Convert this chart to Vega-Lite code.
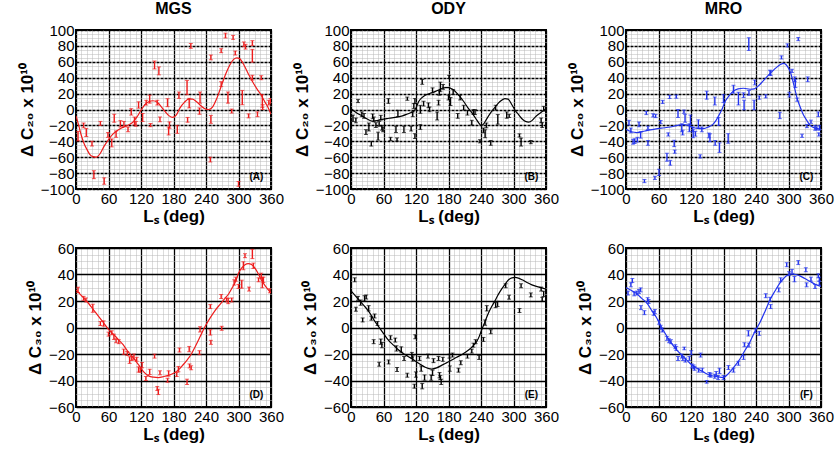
{
"$schema":"https://vega.github.io/schema/vega-lite/v6.json",
"padding":{"left":17,"top":0,"right":2,"bottom":2},
"config":{"font":"Liberation Sans","view":{"stroke":"#000","strokeWidth":2},"axis":{"labelColor":"#000","titleColor":"#000","labelOverlap":false,"labelBound":false},"title":{"fontSize":16,"fontWeight":"bold","offset":6,"color":"#000"}},
"datasets":{
"A":[{"x":3.7,"y":-33.5,"e":6},{"x":14,"y":-20,"e":3},{"x":19,"y":-29,"e":5},{"x":29.5,"y":-43,"e":3},{"x":33,"y":-82,"e":5},{"x":45,"y":-17.5,"e":2.5},{"x":52,"y":-90,"e":4},{"x":59,"y":-32,"e":3},{"x":66,"y":-42,"e":5},{"x":70.6,"y":-11,"e":5},{"x":74,"y":-31,"e":4},{"x":82,"y":-18,"e":4},{"x":88.5,"y":-18,"e":3},{"x":96,"y":-25,"e":3},{"x":102,"y":-3,"e":4},{"x":108,"y":-14.5,"e":5},{"x":110.6,"y":-18,"e":3},{"x":115.5,"y":5.7,"e":4},{"x":123,"y":-10,"e":5},{"x":129.6,"y":8.6,"e":3},{"x":136,"y":13,"e":5},{"x":137.6,"y":-19.6,"e":2},{"x":145,"y":56,"e":5},{"x":153,"y":48.6,"e":5},{"x":150,"y":8.6,"e":3},{"x":155,"y":-12.4,"e":3},{"x":169,"y":8.6,"e":5},{"x":171,"y":-27,"e":5},{"x":172.6,"y":-19.6,"e":4},{"x":187,"y":-25,"e":5},{"x":190,"y":18,"e":4},{"x":206,"y":-13,"e":3},{"x":205,"y":27.6,"e":9},{"x":209,"y":8,"e":6},{"x":212,"y":80,"e":3},{"x":229,"y":15,"e":7},{"x":228,"y":-2,"e":4},{"x":249,"y":65.5,"e":3},{"x":249,"y":-12.4,"e":5},{"x":248,"y":-63,"e":3},{"x":268,"y":32,"e":3},{"x":268,"y":74,"e":2.5},{"x":276,"y":93,"e":3},{"x":280.5,"y":15,"e":7},{"x":287.5,"y":-2,"e":2.5},{"x":290,"y":90.7,"e":2.5},{"x":294,"y":71,"e":2.5},{"x":300,"y":-93.6,"e":3},{"x":307,"y":15,"e":9},{"x":310,"y":82,"e":3},{"x":313,"y":79,"e":3},{"x":318.6,"y":-8,"e":2.5},{"x":325.6,"y":83.6,"e":3},{"x":325.6,"y":67.6,"e":8},{"x":325.6,"y":40,"e":3},{"x":335,"y":-6,"e":3},{"x":342,"y":40,"e":2.5},{"x":344,"y":10.7,"e":8},{"x":344.6,"y":3,"e":3},{"x":356,"y":8.6,"e":3},{"x":359,"y":10.7,"e":3}],
"Af":[{"x":0,"y":-8},{"x":5,"y":-20},{"x":10,"y":-33},{"x":15,"y":-43},{"x":20,"y":-50},{"x":25,"y":-56},{"x":30,"y":-59},{"x":37,"y":-60},{"x":45,"y":-55},{"x":52,"y":-46},{"x":60,"y":-38},{"x":68,"y":-31},{"x":75,"y":-27},{"x":85,"y":-23},{"x":95,"y":-20},{"x":105,"y":-16},{"x":112,"y":-10},{"x":120,"y":-1},{"x":127,"y":6},{"x":135,"y":10},{"x":142,"y":11},{"x":150,"y":9},{"x":158,"y":3},{"x":165,"y":-3},{"x":172,"y":-8},{"x":178,"y":-10},{"x":185,"y":-7},{"x":192,"y":2},{"x":200,"y":9},{"x":208,"y":13},{"x":215,"y":13},{"x":222,"y":10},{"x":230,"y":5},{"x":238,"y":1},{"x":245,"y":0},{"x":252,"y":3},{"x":260,"y":14},{"x":268,"y":29},{"x":276,"y":44},{"x":284,"y":56},{"x":291,"y":63},{"x":297,"y":65},{"x":302,"y":64},{"x":310,"y":56},{"x":318,"y":45},{"x":326,"y":35},{"x":334,"y":26},{"x":342,"y":18},{"x":350,"y":8},{"x":355,"y":2},{"x":360,"y":-6}],
"B":[{"x":3.7,"y":-11,"e":4},{"x":13,"y":10.7,"e":2},{"x":9,"y":-13.7,"e":3},{"x":20,"y":-6,"e":3},{"x":24,"y":-8,"e":3},{"x":27.6,"y":-28.4,"e":3},{"x":33,"y":-22,"e":5},{"x":37.5,"y":-43,"e":3},{"x":40,"y":-8.6,"e":3},{"x":42,"y":-12.4,"e":3},{"x":46,"y":-19.6,"e":3},{"x":50,"y":-33.5,"e":5},{"x":52,"y":-18,"e":3},{"x":55,"y":-10.3,"e":3},{"x":57,"y":-23,"e":3},{"x":59,"y":-25,"e":3},{"x":69,"y":10.7,"e":3},{"x":73,"y":-37,"e":2},{"x":83,"y":-25,"e":4},{"x":85,"y":-37.7,"e":2},{"x":86.6,"y":-5,"e":4},{"x":97.7,"y":-25,"e":4},{"x":104,"y":13.6,"e":2},{"x":111,"y":-24,"e":3},{"x":114,"y":-6,"e":3},{"x":116,"y":4.4,"e":3},{"x":118,"y":10.7,"e":3},{"x":118,"y":-33.5,"e":3},{"x":128,"y":-22,"e":3},{"x":128,"y":0.2,"e":5},{"x":131.5,"y":34.7,"e":3},{"x":134,"y":7.4,"e":3},{"x":143,"y":5.3,"e":3},{"x":145,"y":0.2,"e":3},{"x":150.5,"y":24.2,"e":3},{"x":159,"y":-8.2,"e":5},{"x":161.6,"y":8.6,"e":3},{"x":163,"y":21,"e":3},{"x":165,"y":28.4,"e":6},{"x":170,"y":28.4,"e":3},{"x":180,"y":15,"e":3},{"x":181,"y":41,"e":2},{"x":183.7,"y":10,"e":5},{"x":188.6,"y":22,"e":3},{"x":197,"y":-8,"e":3},{"x":201.5,"y":15,"e":3},{"x":208,"y":2.3,"e":3},{"x":215,"y":-4,"e":3},{"x":223,"y":-16.6,"e":3},{"x":226,"y":-3.2,"e":3},{"x":229,"y":-3.2,"e":3},{"x":238,"y":-40,"e":2},{"x":244.5,"y":-26.3,"e":3},{"x":247.6,"y":-30.5,"e":5},{"x":250,"y":-20,"e":3},{"x":258,"y":-42,"e":3},{"x":267,"y":2.3,"e":3},{"x":271,"y":-12.4,"e":6},{"x":287.5,"y":-7,"e":4},{"x":292,"y":-8,"e":2},{"x":311,"y":-32.6,"e":2},{"x":314,"y":-41,"e":5},{"x":332,"y":-41,"e":2},{"x":351,"y":-13.7,"e":3},{"x":353,"y":-19.6,"e":3},{"x":355.7,"y":1,"e":3}],
"Bf":[{"x":0,"y":1},{"x":10,"y":-4},{"x":20,"y":-8},{"x":30,"y":-12},{"x":39,"y":-14.5},{"x":48,"y":-14},{"x":57,"y":-12.4},{"x":70,"y":-11},{"x":85,"y":-9.5},{"x":95,"y":-8},{"x":103,"y":-6},{"x":110,"y":-4},{"x":116,"y":-2},{"x":120,"y":2},{"x":125,"y":10},{"x":131,"y":15},{"x":137,"y":18},{"x":145,"y":20},{"x":155,"y":22.5},{"x":162,"y":24.5},{"x":168,"y":26.7},{"x":175,"y":27.5},{"x":180,"y":27.6},{"x":186,"y":26},{"x":192,"y":23},{"x":200,"y":17},{"x":207,"y":11},{"x":215,"y":3},{"x":223,"y":-4},{"x":230,"y":-11},{"x":236,"y":-17},{"x":240,"y":-20},{"x":245,"y":-18},{"x":250,"y":-12.4},{"x":258,"y":-4},{"x":266,"y":3},{"x":275,"y":10},{"x":284,"y":13.7},{"x":290,"y":13},{"x":297,"y":6},{"x":303,"y":-1},{"x":310,"y":-7},{"x":316,"y":-12},{"x":322,"y":-15},{"x":328,"y":-15.8},{"x":334,"y":-14},{"x":340,"y":-9.5},{"x":350,"y":-4},{"x":360,"y":1}],
"C":[{"x":5.5,"y":-16.6,"e":3},{"x":9,"y":-26.3,"e":3},{"x":13,"y":-40.6,"e":3},{"x":16,"y":-39.8,"e":3},{"x":21,"y":-38,"e":3},{"x":24,"y":-18.7,"e":3},{"x":27,"y":-32,"e":4},{"x":34,"y":-90,"e":2},{"x":37.5,"y":-4.4,"e":2},{"x":40.5,"y":-23,"e":2},{"x":40.5,"y":-42,"e":3},{"x":50,"y":-7.4,"e":2},{"x":53.4,"y":-86,"e":2},{"x":54.7,"y":-8.2,"e":2},{"x":61,"y":-79,"e":4},{"x":64,"y":-15.8,"e":2},{"x":67.6,"y":9.5,"e":2},{"x":75.6,"y":-60,"e":5},{"x":78,"y":-31.4,"e":2},{"x":80.5,"y":15.8,"e":2},{"x":81.7,"y":-67,"e":3},{"x":89,"y":-42.7,"e":4},{"x":90,"y":-53,"e":2},{"x":92.8,"y":16.2,"e":2},{"x":96,"y":-5,"e":5},{"x":103,"y":-23,"e":5},{"x":104.6,"y":-29,"e":3},{"x":107,"y":-2.7,"e":2},{"x":109,"y":-11,"e":5},{"x":117,"y":-23,"e":5},{"x":119,"y":-13,"e":6},{"x":123,"y":-25,"e":3},{"x":124,"y":-30.5,"e":5},{"x":128,"y":-30.5,"e":3},{"x":133.6,"y":-18,"e":5},{"x":137,"y":-59,"e":2},{"x":140,"y":-25,"e":3},{"x":149,"y":18,"e":5},{"x":153,"y":-32.6,"e":3},{"x":155,"y":-35.6,"e":5},{"x":164,"y":10.7,"e":5},{"x":164.6,"y":-42,"e":3},{"x":171,"y":-15,"e":5},{"x":172.6,"y":-48,"e":6},{"x":180,"y":13.7,"e":5},{"x":188.6,"y":-36.4,"e":6},{"x":198.4,"y":25.5,"e":5},{"x":207.6,"y":13.7,"e":8},{"x":217,"y":18,"e":3},{"x":218,"y":5.7,"e":6},{"x":226.7,"y":82.3,"e":8},{"x":227,"y":21,"e":3},{"x":236.5,"y":5.7,"e":6},{"x":237.7,"y":34,"e":3},{"x":246,"y":15,"e":2},{"x":258,"y":16.6,"e":2},{"x":266,"y":46.5,"e":3},{"x":267,"y":45.7,"e":3},{"x":284,"y":-7.5,"e":4},{"x":287,"y":65.5,"e":2},{"x":298,"y":80.6,"e":2},{"x":301.6,"y":18.7,"e":3},{"x":306.5,"y":48.6,"e":2},{"x":311.5,"y":38,"e":3},{"x":312.7,"y":32.6,"e":5},{"x":316,"y":12.4,"e":2},{"x":318,"y":88.6,"e":2},{"x":325,"y":-33,"e":2},{"x":334,"y":-20.8,"e":2},{"x":335.4,"y":38,"e":3},{"x":341.5,"y":-15.4,"e":2},{"x":349,"y":-23,"e":3},{"x":352,"y":-23.8,"e":2},{"x":355,"y":-6,"e":3},{"x":356,"y":-31.4,"e":2},{"x":357.5,"y":-23,"e":3}],
"Cf":[{"x":0,"y":-25},{"x":10,"y":-28},{"x":20,"y":-29},{"x":35,"y":-27},{"x":51,"y":-25},{"x":65,"y":-23.5},{"x":82,"y":-22},{"x":95,"y":-20},{"x":106,"y":-19},{"x":115,"y":-20},{"x":125,"y":-23},{"x":135,"y":-24},{"x":143,"y":-24},{"x":152,"y":-22},{"x":160,"y":-19},{"x":166,"y":-14},{"x":171,"y":-8},{"x":177,"y":0},{"x":183,"y":10},{"x":190,"y":17},{"x":198,"y":23},{"x":207,"y":26},{"x":217,"y":26.7},{"x":229,"y":25.5},{"x":237,"y":26},{"x":245,"y":30},{"x":252,"y":35},{"x":260,"y":41},{"x":270,"y":48},{"x":278,"y":53},{"x":285,"y":56.5},{"x":291,"y":58},{"x":296,"y":56},{"x":300,"y":52},{"x":304,"y":46},{"x":308,"y":36},{"x":312,"y":25},{"x":316,"y":14},{"x":321,"y":4},{"x":327,"y":-6},{"x":334,"y":-14},{"x":340,"y":-20},{"x":350,"y":-23.5},{"x":360,"y":-25}],
"D":[{"x":3.7,"y":28.4,"e":2},{"x":14,"y":22,"e":1.5},{"x":18.4,"y":20.8,"e":1.5},{"x":31,"y":14.5,"e":3},{"x":45,"y":3,"e":1.5},{"x":51,"y":3,"e":2},{"x":60,"y":-5,"e":1.5},{"x":66,"y":-4,"e":1.5},{"x":70,"y":-7,"e":2},{"x":74,"y":-10,"e":1.5},{"x":79,"y":-10.7,"e":1.5},{"x":88,"y":-18.3,"e":2},{"x":94.6,"y":-19.6,"e":1.5},{"x":99,"y":-24.6,"e":2.5},{"x":103,"y":-23.4,"e":1.5},{"x":107,"y":-22,"e":2},{"x":112,"y":-24,"e":1.5},{"x":115.5,"y":-31.7,"e":2},{"x":118.6,"y":-32.2,"e":1.5},{"x":122,"y":-28.4,"e":2},{"x":129,"y":-38.5,"e":1.5},{"x":136,"y":-33.5,"e":2},{"x":145,"y":-21.6,"e":1.5},{"x":150,"y":-46,"e":1.5},{"x":152,"y":-48.6,"e":2},{"x":155,"y":-34.2,"e":1.5},{"x":169,"y":-39.8,"e":1.5},{"x":171,"y":-34.7,"e":2},{"x":186,"y":-35.5,"e":1.5},{"x":189,"y":-31.4,"e":2},{"x":191,"y":-17,"e":1.5},{"x":205,"y":-41,"e":2},{"x":209,"y":-16.3,"e":2},{"x":209.6,"y":-29,"e":1.5},{"x":212.6,"y":-30.4,"e":1.5},{"x":228,"y":-19,"e":1.5},{"x":229,"y":-1.4,"e":2},{"x":248,"y":15.8,"e":1.5},{"x":248,"y":-3.7,"e":2},{"x":249,"y":-11.2,"e":1.5},{"x":268,"y":23.4,"e":1.5},{"x":269,"y":-0.6,"e":1.5},{"x":278,"y":20.8,"e":1.5},{"x":281,"y":20,"e":2},{"x":287.5,"y":20.8,"e":1.5},{"x":292,"y":34,"e":2},{"x":295,"y":36.5,"e":1.5},{"x":300,"y":31,"e":1.5},{"x":306,"y":32.7,"e":3},{"x":309,"y":46.6,"e":3},{"x":312,"y":54.2,"e":1.5},{"x":319.5,"y":29,"e":1.5},{"x":325.6,"y":55.5,"e":3.5},{"x":327.5,"y":46.6,"e":2},{"x":337,"y":36,"e":1.5},{"x":342,"y":39,"e":2},{"x":344,"y":34,"e":4},{"x":346,"y":36,"e":2},{"x":358,"y":27.7,"e":1.5}],
"Df":[{"x":0,"y":28.4},{"x":10,"y":24},{"x":23,"y":18.3},{"x":33,"y":13},{"x":42,"y":8.2},{"x":50,"y":4},{"x":60,"y":-1.4},{"x":70,"y":-5.5},{"x":79,"y":-9.5},{"x":87,"y":-13},{"x":94,"y":-17},{"x":102,"y":-21},{"x":109,"y":-24.6},{"x":117,"y":-29},{"x":125,"y":-33.5},{"x":134,"y":-36.5},{"x":143,"y":-37.5},{"x":152,"y":-37.8},{"x":162,"y":-37},{"x":171,"y":-36},{"x":180,"y":-34.5},{"x":189,"y":-32},{"x":197,"y":-28.5},{"x":205,"y":-24.6},{"x":213,"y":-20},{"x":220,"y":-14.5},{"x":229,"y":-7},{"x":238,"y":0.6},{"x":248,"y":7.5},{"x":257,"y":13},{"x":266,"y":17.5},{"x":275,"y":22},{"x":282,"y":25.5},{"x":288,"y":29.7},{"x":295,"y":35},{"x":300,"y":41},{"x":306,"y":45},{"x":312,"y":47.4},{"x":318,"y":48.2},{"x":324,"y":47.5},{"x":330,"y":45},{"x":336,"y":41},{"x":342,"y":36},{"x":350,"y":31},{"x":360,"y":26}],
"E":[{"x":6.8,"y":36,"e":1.5},{"x":9,"y":13.8,"e":1.5},{"x":13,"y":22,"e":1.5},{"x":17.8,"y":18.8,"e":2},{"x":21.5,"y":5.7,"e":1.5},{"x":25,"y":22,"e":2},{"x":28,"y":23,"e":1.5},{"x":32.6,"y":14.5,"e":2},{"x":37.5,"y":7,"e":1.5},{"x":41.8,"y":-10.7,"e":1.5},{"x":43.6,"y":8.7,"e":1.5},{"x":49,"y":3,"e":1.5},{"x":52,"y":-27.7,"e":1.5},{"x":55,"y":-10.7,"e":2},{"x":57,"y":-13.3,"e":2},{"x":69.4,"y":-26,"e":1.5},{"x":73,"y":-7.7,"e":1.5},{"x":81.7,"y":-9.5,"e":1.5},{"x":84,"y":-15.8,"e":2},{"x":85,"y":-31.7,"e":1.5},{"x":92.8,"y":-16.6,"e":2},{"x":98,"y":-23.4,"e":1.5},{"x":104,"y":-36,"e":1.5},{"x":112.4,"y":-20.8,"e":2},{"x":114,"y":-23.4,"e":2},{"x":117,"y":-44.3,"e":1.5},{"x":118.6,"y":-7,"e":1.5},{"x":119.8,"y":-35.5,"e":2},{"x":126.5,"y":-23.4,"e":1.5},{"x":129.6,"y":-31,"e":2},{"x":131.5,"y":-44.3,"e":2},{"x":135.8,"y":-37.8,"e":2},{"x":142,"y":-21.6,"e":1.5},{"x":148,"y":-37.8,"e":2},{"x":150.5,"y":-34.2,"e":2},{"x":152.3,"y":-25,"e":1.5},{"x":161.6,"y":-23.4,"e":1.5},{"x":163.4,"y":-36,"e":2},{"x":165,"y":-37.8,"e":1.5},{"x":166.5,"y":-41,"e":2},{"x":169.5,"y":-24,"e":1.5},{"x":181.8,"y":-21.6,"e":1.5},{"x":182.4,"y":-31,"e":2},{"x":187.4,"y":-20.8,"e":1.5},{"x":198.4,"y":-32.2,"e":1.5},{"x":202.7,"y":-26.6,"e":1.5},{"x":215,"y":-21.6,"e":1.5},{"x":223,"y":-17.8,"e":1.5},{"x":226,"y":-13.3,"e":1.5},{"x":230,"y":-10.7,"e":1.5},{"x":236.5,"y":-22.6,"e":1.5},{"x":244.5,"y":-9,"e":1.5},{"x":247.6,"y":3.7,"e":2},{"x":250.6,"y":14.5,"e":2},{"x":258,"y":-3.2,"e":1.5},{"x":267,"y":17,"e":2},{"x":270.6,"y":17.8,"e":2},{"x":285.6,"y":31.5,"e":1.5},{"x":291.8,"y":22.9,"e":1.5},{"x":314,"y":31.5,"e":1.5},{"x":311,"y":12.8,"e":1.5},{"x":332,"y":24.6,"e":1.5},{"x":351,"y":29,"e":1.5},{"x":353,"y":21.3,"e":1.5},{"x":355.7,"y":25.4,"e":2}],
"Ef":[{"x":0,"y":27.7},{"x":7,"y":24.5},{"x":14,"y":21},{"x":24,"y":16.5},{"x":33,"y":12},{"x":42,"y":6},{"x":51,"y":0.6},{"x":60,"y":-4.5},{"x":69,"y":-9.5},{"x":79,"y":-13.5},{"x":88,"y":-17},{"x":97,"y":-19.8},{"x":106,"y":-22},{"x":116,"y":-24.5},{"x":125,"y":-27},{"x":137,"y":-30},{"x":149,"y":-31.4},{"x":158,"y":-30.5},{"x":168,"y":-28.4},{"x":177,"y":-26.5},{"x":186,"y":-24.6},{"x":195,"y":-22.5},{"x":205,"y":-20.3},{"x":217,"y":-17},{"x":225,"y":-14},{"x":232,"y":-10.7},{"x":237,"y":-6.5},{"x":241,"y":-2},{"x":247,"y":4},{"x":254,"y":11.2},{"x":260,"y":16},{"x":266,"y":20.3},{"x":272,"y":25},{"x":278,"y":29},{"x":285,"y":33},{"x":291,"y":36},{"x":297,"y":37.5},{"x":303,"y":37.8},{"x":309,"y":37.3},{"x":316,"y":36},{"x":325,"y":34},{"x":334,"y":32.2},{"x":347,"y":30.5},{"x":360,"y":29}],
"F":[{"x":3.7,"y":26,"e":1.5},{"x":9,"y":32.2,"e":1.5},{"x":11.7,"y":35.5,"e":1.5},{"x":15,"y":25.4,"e":1.5},{"x":20,"y":26,"e":1.5},{"x":24,"y":27.2,"e":1.5},{"x":27,"y":28.4,"e":1.5},{"x":27.6,"y":15,"e":1.5},{"x":34,"y":11.2,"e":1.5},{"x":40,"y":21,"e":1.5},{"x":41.8,"y":19.6,"e":1.5},{"x":51,"y":10.7,"e":1.5},{"x":53.4,"y":12,"e":1.5},{"x":60.8,"y":4,"e":1.5},{"x":64,"y":0.2,"e":1.5},{"x":67,"y":-1.9,"e":1.5},{"x":75.6,"y":-8.2,"e":1.5},{"x":79.3,"y":-10,"e":1.5},{"x":83,"y":-10.7,"e":1.5},{"x":91,"y":-14.5,"e":1.5},{"x":92.8,"y":-15.8,"e":1.5},{"x":96,"y":-23.4,"e":1.5},{"x":103,"y":-21.6,"e":1.5},{"x":105,"y":-23.4,"e":1.5},{"x":107.6,"y":-15.8,"e":1},{"x":109.5,"y":-24.6,"e":1.5},{"x":117,"y":-23.4,"e":1.5},{"x":120.4,"y":-19,"e":1.5},{"x":121.6,"y":-29,"e":1.5},{"x":124.7,"y":-29.7,"e":1.5},{"x":126.5,"y":-30.8,"e":1.5},{"x":134,"y":-32.2,"e":1.5},{"x":137.7,"y":-20.8,"e":1.5},{"x":141,"y":-32.2,"e":1.5},{"x":149,"y":-41,"e":1},{"x":154,"y":-35.5,"e":1.5},{"x":156.6,"y":-36,"e":1.5},{"x":164,"y":-36.8,"e":1.5},{"x":166.5,"y":-34.7,"e":1.5},{"x":170,"y":-37.8,"e":1.5},{"x":172.6,"y":-32.7,"e":2},{"x":180,"y":-37.8,"e":1.5},{"x":189,"y":-30.2,"e":1.5},{"x":198.4,"y":-32.2,"e":1.5},{"x":207.6,"y":-27,"e":1.5},{"x":217,"y":-22.6,"e":1.5},{"x":218.6,"y":-13,"e":1.5},{"x":226,"y":-4.4,"e":2},{"x":227,"y":-13.3,"e":1.5},{"x":239,"y":-2.4,"e":1.5},{"x":246,"y":-4.4,"e":1.5},{"x":258,"y":24,"e":1.5},{"x":266,"y":21.3,"e":1.5},{"x":267,"y":15.8,"e":1.5},{"x":282,"y":28.4,"e":1.5},{"x":285.6,"y":36,"e":1.5},{"x":296.7,"y":47.4,"e":1.5},{"x":301,"y":40.6,"e":1.5},{"x":306.5,"y":42.4,"e":1.5},{"x":311,"y":36.5,"e":2},{"x":318,"y":49,"e":1.5},{"x":332,"y":43.6,"e":1.5},{"x":333.4,"y":32.2,"e":1.5},{"x":341.5,"y":36.5,"e":1.5},{"x":349,"y":31,"e":1.5},{"x":355,"y":39,"e":1.5},{"x":357,"y":36.5,"e":1.5},{"x":357,"y":33.5,"e":1.5}],
"Ff":[{"x":0,"y":30.2},{"x":10,"y":28},{"x":20,"y":25.4},{"x":29,"y":22},{"x":39,"y":18.3},{"x":48,"y":12.5},{"x":57,"y":7},{"x":66,"y":0},{"x":76,"y":-7},{"x":85,"y":-12.5},{"x":94,"y":-17},{"x":106,"y":-22},{"x":118,"y":-27},{"x":128,"y":-30},{"x":137,"y":-32.2},{"x":146,"y":-34.3},{"x":155,"y":-36},{"x":167,"y":-37},{"x":180,"y":-37.8},{"x":186,"y":-36},{"x":192,"y":-33.5},{"x":201,"y":-29},{"x":211,"y":-23.4},{"x":220,"y":-17},{"x":229,"y":-10.7},{"x":238,"y":-3},{"x":248,"y":4.4},{"x":257,"y":12.5},{"x":266,"y":21},{"x":275,"y":27.5},{"x":284,"y":33.5},{"x":291,"y":37},{"x":297,"y":39.3},{"x":303,"y":40.2},{"x":309,"y":40.3},{"x":315,"y":39.8},{"x":321,"y":39},{"x":330,"y":37},{"x":340,"y":34.7},{"x":350,"y":32.5},{"x":360,"y":31}],
"LA":[{"x":333,"y":-85,"t":"(A)"}],"LB":[{"x":333,"y":-85,"t":"(B)"}],"LC":[{"x":333,"y":-85,"t":"(C)"}],
"LD":[{"x":333,"y":-51,"t":"(D)"}],"LE":[{"x":333,"y":-51,"t":"(E)"}],"LF":[{"x":333,"y":-51,"t":"(F)"}]
},
"vconcat":[
{"hconcat":[
{"width":195,"height":159,"title":"MGS","resolve":{"axis":{"x":"independent","y":"independent"}},"layer":[
{"data":{"name":"A"},"mark":{"type":"errorbar","color":"#ee1c1c","ticks":{"size":4},"rule":{"strokeWidth":1.4},"clip":true},"encoding":{"x":{"field":"x","type":"quantitative","scale":{"domain":[0,360],"nice":false,"zero":false},"axis":{"orient":"top","values":[10,20,30,40,50,70,80,90,100,110,130,140,150,160,170,190,200,210,220,230,250,260,270,280,290,310,320,330,340,350],"grid":true,"gridColor":"#b8b8b8","gridDash":[1,1],"labels":false,"ticks":false,"domain":false,"title":null}},"y":{"field":"y","type":"quantitative","scale":{"domain":[-100,100],"nice":false,"zero":false},"axis":{"orient":"right","values":[-95,-90,-85,-75,-70,-65,-55,-50,-45,-35,-30,-25,-15,-10,-5,5,10,15,25,30,35,45,50,55,65,70,75,85,90,95],"grid":true,"gridColor":"#b8b8b8","gridDash":[1,1],"labels":false,"ticks":false,"domain":false,"title":null}},"yError":{"field":"e"}}},
{"data":{"name":"Af"},"mark":{"type":"line","color":"#ee1c1c","strokeWidth":1.2,"interpolate":"monotone","clip":true},"encoding":{"x":{"field":"x","type":"quantitative","axis":{"orient":"bottom","values":[0,60,120,180,240,300,360],"grid":true,"gridColor":"#000","gridWidth":1.3,"domain":false,"ticks":false,"labelFontSize":15,"labelPadding":2,"labelFlush":false,"title":"Lₛ (deg)","titleFontSize":17,"titleFontWeight":"bold","titlePadding":2}},"y":{"field":"y","type":"quantitative","axis":{"orient":"left","values":[-100,-80,-60,-40,-20,0,20,40,60,80,100],"grid":true,"gridColor":"#000","gridWidth":1.3,"gridDash":[3,1],"domain":false,"ticks":false,"labelFontSize":15,"labelPadding":2,"title":"Δ C₂₀ x 10¹⁰","titleFontSize":17,"titleFontWeight":"bold","titlePadding":4}}}},
{"data":{"name":"LA"},"mark":{"type":"text","fontSize":10,"fontWeight":"bold","color":"#000"},"encoding":{"x":{"field":"x","type":"quantitative","axis":null},"y":{"field":"y","type":"quantitative","axis":null},"text":{"field":"t"}}}
]},
{"width":195,"height":159,"title":"ODY","resolve":{"axis":{"x":"independent","y":"independent"}},"layer":[
{"data":{"name":"B"},"mark":{"type":"errorbar","color":"#000","ticks":{"size":4},"rule":{"strokeWidth":1.4},"clip":true},"encoding":{"x":{"field":"x","type":"quantitative","scale":{"domain":[0,360],"nice":false,"zero":false},"axis":{"orient":"top","values":[10,20,30,40,50,70,80,90,100,110,130,140,150,160,170,190,200,210,220,230,250,260,270,280,290,310,320,330,340,350],"grid":true,"gridColor":"#b8b8b8","gridDash":[1,1],"labels":false,"ticks":false,"domain":false,"title":null}},"y":{"field":"y","type":"quantitative","scale":{"domain":[-100,100],"nice":false,"zero":false},"axis":{"orient":"right","values":[-95,-90,-85,-75,-70,-65,-55,-50,-45,-35,-30,-25,-15,-10,-5,5,10,15,25,30,35,45,50,55,65,70,75,85,90,95],"grid":true,"gridColor":"#b8b8b8","gridDash":[1,1],"labels":false,"ticks":false,"domain":false,"title":null}},"yError":{"field":"e"}}},
{"data":{"name":"Bf"},"mark":{"type":"line","color":"#000","strokeWidth":1.2,"interpolate":"monotone","clip":true},"encoding":{"x":{"field":"x","type":"quantitative","axis":{"orient":"bottom","values":[0,60,120,180,240,300,360],"grid":true,"gridColor":"#000","gridWidth":1.3,"domain":false,"ticks":false,"labelFontSize":15,"labelPadding":2,"labelFlush":false,"title":"Lₛ (deg)","titleFontSize":17,"titleFontWeight":"bold","titlePadding":2}},"y":{"field":"y","type":"quantitative","axis":{"orient":"left","values":[-100,-80,-60,-40,-20,0,20,40,60,80,100],"grid":true,"gridColor":"#000","gridWidth":1.3,"gridDash":[3,1],"domain":false,"ticks":false,"labelFontSize":15,"labelPadding":2,"title":"Δ C₂₀ x 10¹⁰","titleFontSize":17,"titleFontWeight":"bold","titlePadding":4}}}},
{"data":{"name":"LB"},"mark":{"type":"text","fontSize":10,"fontWeight":"bold","color":"#000"},"encoding":{"x":{"field":"x","type":"quantitative","axis":null},"y":{"field":"y","type":"quantitative","axis":null},"text":{"field":"t"}}}
]},
{"width":195,"height":159,"title":"MRO","resolve":{"axis":{"x":"independent","y":"independent"}},"layer":[
{"data":{"name":"C"},"mark":{"type":"errorbar","color":"#2233ee","ticks":{"size":4},"rule":{"strokeWidth":1.4},"clip":true},"encoding":{"x":{"field":"x","type":"quantitative","scale":{"domain":[0,360],"nice":false,"zero":false},"axis":{"orient":"top","values":[10,20,30,40,50,70,80,90,100,110,130,140,150,160,170,190,200,210,220,230,250,260,270,280,290,310,320,330,340,350],"grid":true,"gridColor":"#b8b8b8","gridDash":[1,1],"labels":false,"ticks":false,"domain":false,"title":null}},"y":{"field":"y","type":"quantitative","scale":{"domain":[-100,100],"nice":false,"zero":false},"axis":{"orient":"right","values":[-95,-90,-85,-75,-70,-65,-55,-50,-45,-35,-30,-25,-15,-10,-5,5,10,15,25,30,35,45,50,55,65,70,75,85,90,95],"grid":true,"gridColor":"#b8b8b8","gridDash":[1,1],"labels":false,"ticks":false,"domain":false,"title":null}},"yError":{"field":"e"}}},
{"data":{"name":"Cf"},"mark":{"type":"line","color":"#2233ee","strokeWidth":1.2,"interpolate":"monotone","clip":true},"encoding":{"x":{"field":"x","type":"quantitative","axis":{"orient":"bottom","values":[0,60,120,180,240,300,360],"grid":true,"gridColor":"#000","gridWidth":1.3,"domain":false,"ticks":false,"labelFontSize":15,"labelPadding":2,"labelFlush":false,"title":"Lₛ (deg)","titleFontSize":17,"titleFontWeight":"bold","titlePadding":2}},"y":{"field":"y","type":"quantitative","axis":{"orient":"left","values":[-100,-80,-60,-40,-20,0,20,40,60,80,100],"grid":true,"gridColor":"#000","gridWidth":1.3,"gridDash":[3,1],"domain":false,"ticks":false,"labelFontSize":15,"labelPadding":2,"title":"Δ C₂₀ x 10¹⁰","titleFontSize":17,"titleFontWeight":"bold","titlePadding":4}}}},
{"data":{"name":"LC"},"mark":{"type":"text","fontSize":10,"fontWeight":"bold","color":"#000"},"encoding":{"x":{"field":"x","type":"quantitative","axis":null},"y":{"field":"y","type":"quantitative","axis":null},"text":{"field":"t"}}}
]}
],"spacing":80,"bounds":"flush"},
{"hconcat":[
{"width":195,"height":159,"resolve":{"axis":{"x":"independent","y":"independent"}},"layer":[
{"data":{"name":"D"},"mark":{"type":"errorbar","color":"#ee1c1c","ticks":{"size":4},"rule":{"strokeWidth":1.4},"clip":true},"encoding":{"x":{"field":"x","type":"quantitative","scale":{"domain":[0,360],"nice":false,"zero":false},"axis":{"orient":"top","values":[10,20,30,40,50,70,80,90,100,110,130,140,150,160,170,190,200,210,220,230,250,260,270,280,290,310,320,330,340,350],"grid":true,"gridColor":"#b8b8b8","gridDash":[1,1],"labels":false,"ticks":false,"domain":false,"title":null}},"y":{"field":"y","type":"quantitative","scale":{"domain":[-60,60],"nice":false,"zero":false},"axis":{"orient":"right","values":[-55,-50,-45,-35,-30,-25,-15,-10,-5,5,10,15,25,30,35,45,50,55],"grid":true,"gridColor":"#b8b8b8","gridDash":[1,1],"labels":false,"ticks":false,"domain":false,"title":null}},"yError":{"field":"e"}}},
{"data":{"name":"Df"},"mark":{"type":"line","color":"#ee1c1c","strokeWidth":1.2,"interpolate":"monotone","clip":true},"encoding":{"x":{"field":"x","type":"quantitative","axis":{"orient":"bottom","values":[0,60,120,180,240,300,360],"grid":true,"gridColor":"#000","gridWidth":1.3,"domain":false,"ticks":false,"labelFontSize":15,"labelPadding":2,"labelFlush":false,"title":"Lₛ (deg)","titleFontSize":17,"titleFontWeight":"bold","titlePadding":2}},"y":{"field":"y","type":"quantitative","axis":{"orient":"left","values":[-60,-40,-20,0,20,40,60],"grid":true,"gridColor":"#000","gridWidth":1.3,"domain":false,"ticks":false,"labelFontSize":15,"labelPadding":2,"title":"Δ C₃₀ x 10¹⁰","titleFontSize":17,"titleFontWeight":"bold","titlePadding":4}}}},
{"data":{"name":"LD"},"mark":{"type":"text","fontSize":10,"fontWeight":"bold","color":"#000"},"encoding":{"x":{"field":"x","type":"quantitative","axis":null},"y":{"field":"y","type":"quantitative","axis":null},"text":{"field":"t"}}}
]},
{"width":195,"height":159,"resolve":{"axis":{"x":"independent","y":"independent"}},"layer":[
{"data":{"name":"E"},"mark":{"type":"errorbar","color":"#000","ticks":{"size":4},"rule":{"strokeWidth":1.4},"clip":true},"encoding":{"x":{"field":"x","type":"quantitative","scale":{"domain":[0,360],"nice":false,"zero":false},"axis":{"orient":"top","values":[10,20,30,40,50,70,80,90,100,110,130,140,150,160,170,190,200,210,220,230,250,260,270,280,290,310,320,330,340,350],"grid":true,"gridColor":"#b8b8b8","gridDash":[1,1],"labels":false,"ticks":false,"domain":false,"title":null}},"y":{"field":"y","type":"quantitative","scale":{"domain":[-60,60],"nice":false,"zero":false},"axis":{"orient":"right","values":[-55,-50,-45,-35,-30,-25,-15,-10,-5,5,10,15,25,30,35,45,50,55],"grid":true,"gridColor":"#b8b8b8","gridDash":[1,1],"labels":false,"ticks":false,"domain":false,"title":null}},"yError":{"field":"e"}}},
{"data":{"name":"Ef"},"mark":{"type":"line","color":"#000","strokeWidth":1.2,"interpolate":"monotone","clip":true},"encoding":{"x":{"field":"x","type":"quantitative","axis":{"orient":"bottom","values":[0,60,120,180,240,300,360],"grid":true,"gridColor":"#000","gridWidth":1.3,"domain":false,"ticks":false,"labelFontSize":15,"labelPadding":2,"labelFlush":false,"title":"Lₛ (deg)","titleFontSize":17,"titleFontWeight":"bold","titlePadding":2}},"y":{"field":"y","type":"quantitative","axis":{"orient":"left","values":[-60,-40,-20,0,20,40,60],"grid":true,"gridColor":"#000","gridWidth":1.3,"domain":false,"ticks":false,"labelFontSize":15,"labelPadding":2,"title":"Δ C₃₀ x 10¹⁰","titleFontSize":17,"titleFontWeight":"bold","titlePadding":4}}}},
{"data":{"name":"LE"},"mark":{"type":"text","fontSize":10,"fontWeight":"bold","color":"#000"},"encoding":{"x":{"field":"x","type":"quantitative","axis":null},"y":{"field":"y","type":"quantitative","axis":null},"text":{"field":"t"}}}
]},
{"width":195,"height":159,"resolve":{"axis":{"x":"independent","y":"independent"}},"layer":[
{"data":{"name":"F"},"mark":{"type":"errorbar","color":"#2233ee","ticks":{"size":4},"rule":{"strokeWidth":1.4},"clip":true},"encoding":{"x":{"field":"x","type":"quantitative","scale":{"domain":[0,360],"nice":false,"zero":false},"axis":{"orient":"top","values":[10,20,30,40,50,70,80,90,100,110,130,140,150,160,170,190,200,210,220,230,250,260,270,280,290,310,320,330,340,350],"grid":true,"gridColor":"#b8b8b8","gridDash":[1,1],"labels":false,"ticks":false,"domain":false,"title":null}},"y":{"field":"y","type":"quantitative","scale":{"domain":[-60,60],"nice":false,"zero":false},"axis":{"orient":"right","values":[-55,-50,-45,-35,-30,-25,-15,-10,-5,5,10,15,25,30,35,45,50,55],"grid":true,"gridColor":"#b8b8b8","gridDash":[1,1],"labels":false,"ticks":false,"domain":false,"title":null}},"yError":{"field":"e"}}},
{"data":{"name":"Ff"},"mark":{"type":"line","color":"#2233ee","strokeWidth":1.2,"interpolate":"monotone","clip":true},"encoding":{"x":{"field":"x","type":"quantitative","axis":{"orient":"bottom","values":[0,60,120,180,240,300,360],"grid":true,"gridColor":"#000","gridWidth":1.3,"domain":false,"ticks":false,"labelFontSize":15,"labelPadding":2,"labelFlush":false,"title":"Lₛ (deg)","titleFontSize":17,"titleFontWeight":"bold","titlePadding":2}},"y":{"field":"y","type":"quantitative","axis":{"orient":"left","values":[-60,-40,-20,0,20,40,60],"grid":true,"gridColor":"#000","gridWidth":1.3,"domain":false,"ticks":false,"labelFontSize":15,"labelPadding":2,"title":"Δ C₃₀ x 10¹⁰","titleFontSize":17,"titleFontWeight":"bold","titlePadding":4}}}},
{"data":{"name":"LF"},"mark":{"type":"text","fontSize":10,"fontWeight":"bold","color":"#000"},"encoding":{"x":{"field":"x","type":"quantitative","axis":null},"y":{"field":"y","type":"quantitative","axis":null},"text":{"field":"t"}}}
]}
],"spacing":80,"bounds":"flush"}
],"spacing":15
}
